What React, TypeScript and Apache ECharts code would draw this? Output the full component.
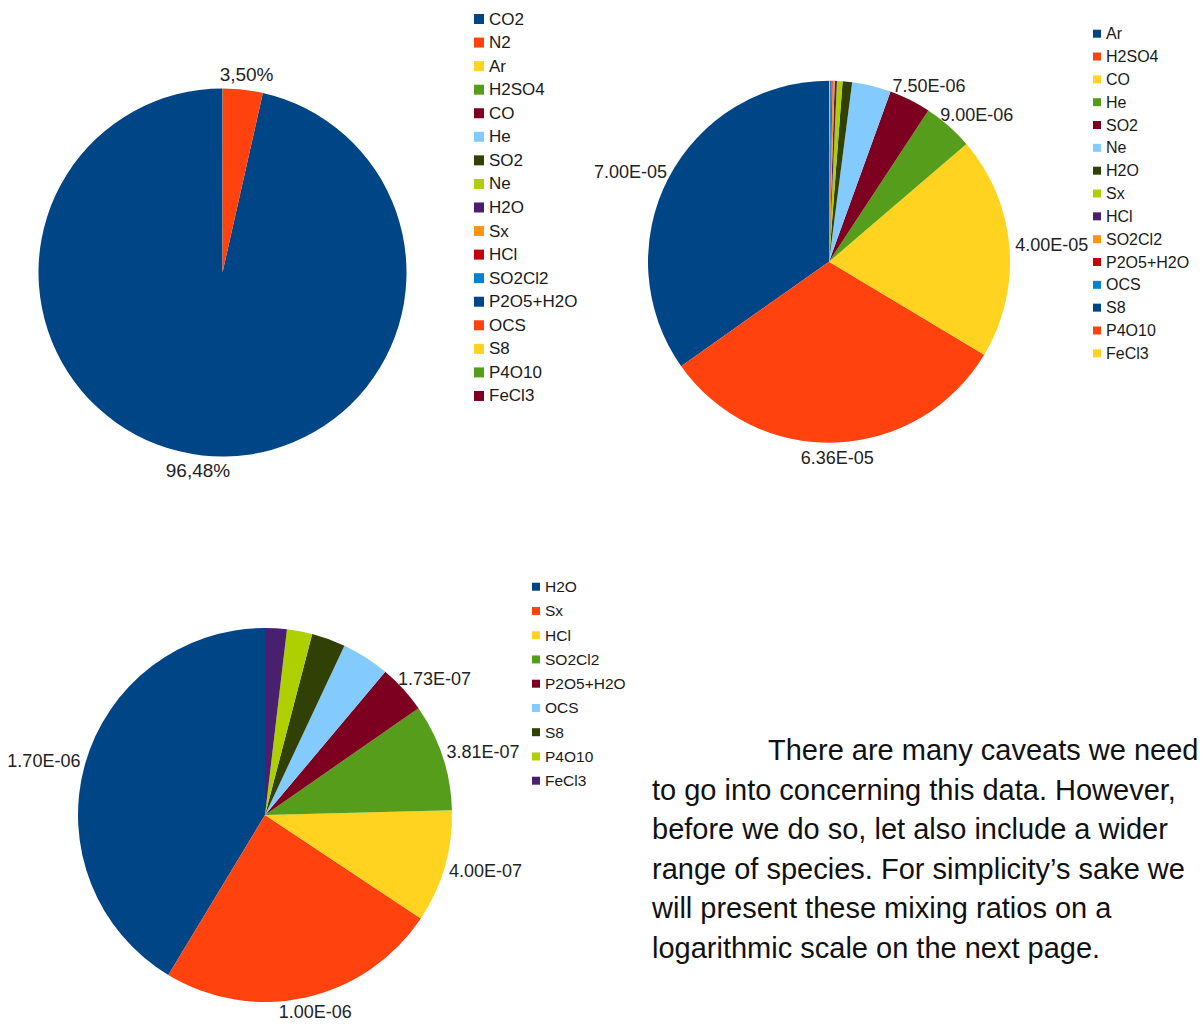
import React, { useEffect, useRef } from "react";
import * as echarts from "echarts";

// ---- Data ----
const palette = [
  "#004586", "#ff420e", "#ffd320", "#579d1c", "#7e0021", "#83caff",
  "#314004", "#aecf00", "#4b1f6f", "#ff950e", "#c5000b", "#0084d1",
];

const names1 = ["CO2", "N2", "Ar", "H2SO4", "CO", "He", "SO2", "Ne", "H2O", "Sx", "HCl", "SO2Cl2", "P2O5+H2O", "OCS", "S8", "P4O10", "FeCl3"];
const values1 = [0.9648, 0.035, 7.0e-5, 6.36e-5, 4.0e-5, 9.0e-6, 7.5e-6, 7.0e-6, 1.7e-6, 1.0e-6, 4.0e-7, 3.81e-7, 1.73e-7, 1.7e-7, 1.2e-7, 9.0e-8, 7.7e-8];

const names2 = ["Ar", "H2SO4", "CO", "He", "SO2", "Ne", "H2O", "Sx", "HCl", "SO2Cl2", "P2O5+H2O", "OCS", "S8", "P4O10", "FeCl3"];
const values2 = [7.0e-5, 6.36e-5, 4.0e-5, 9.0e-6, 7.5e-6, 7.0e-6, 1.7e-6, 1.0e-6, 4.0e-7, 3.81e-7, 1.73e-7, 1.7e-7, 1.2e-7, 9.0e-8, 7.7e-8];

const names3 = ["H2O", "Sx", "HCl", "SO2Cl2", "P2O5+H2O", "OCS", "S8", "P4O10", "FeCl3"];
const values3 = [1.7e-6, 1.0e-6, 4.0e-7, 3.81e-7, 1.73e-7, 1.7e-7, 1.2e-7, 9.0e-8, 7.7e-8];

// number of leading slices that carry a value label
const labeledCounts = [2, 5, 5];
const labelFormats = ["percent", "sci", "sci"];

const paragraphLines = [
  "There are many caveats we need",
  "to go into concerning this data. However,",
  "before we do so, let also include a wider",
  "range of species. For simplicity\u2019s sake we",
  "will present these mixing ratios on a",
  "logarithmic scale on the next page.",
];

// ---- Layout (positions / styles) ----
const FONT = '"Liberation Sans", Arial, sans-serif';
const layouts = [
  { center: [222.5, 272.5], radius: 184, labelFont: 19, lgLeft: 474, lgTop: 10, lgIcon: 10, lgFont: 17, lgGap: 5.56 },
  { center: [829, 261.7], radius: 181, labelFont: 18, lgLeft: 1093, lgTop: 24.7, lgIcon: 8, lgFont: 16, lgGap: 4.83 },
  { center: [265, 815], radius: 187, labelFont: 18, lgLeft: 532, lgTop: 577.7, lgIcon: 8, lgFont: 15.5, lgGap: 6.25 },
];
const LABEL_OFFSET = 6;
const PARA = { x0: 768, x: 652, y: 750, step: 39.5, font: 29 };

const seriesData = [
  { names: names1, values: values1 },
  { names: names2, values: values2 },
  { names: names3, values: values3 },
];

function sci(v: number): string {
  const [m, e] = v.toExponential(2).split("e");
  const n = parseInt(e, 10);
  const sign = n < 0 ? "-" : "+";
  return `${m}E${sign}${String(Math.abs(n)).padStart(2, "0")}`;
}

function keyName(k: number, name: string) {
  return `${k}:${name}`;
}

export default function App() {
  const ref = useRef<HTMLDivElement>(null);

  useEffect(() => {
    if (!ref.current) return;
    const chart = echarts.init(ref.current, undefined, { renderer: "svg" });

    const series = seriesData.map((sd, k) => {
      const lay = layouts[k];
      const total = sd.values.reduce((a, b) => a + b, 0);
      const cum: number[] = [];
      let acc = 0;
      sd.values.forEach((v) => {
        cum.push(acc);
        acc += v;
      });
      return {
        type: "pie",
        name: `pie${k}`,
        center: lay.center,
        radius: lay.radius,
        startAngle: 90,
        clockwise: false,
        avoidLabelOverlap: false,
        percentPrecision: 2,
        emphasis: { disabled: true },
        itemStyle: { borderWidth: 0 },
        labelLine: { show: false },
        label: {
          position: "outside",
          fontSize: lay.labelFont,
          fontFamily: FONT,
          color: "#222",
          formatter: (p: any) =>
            labelFormats[k] === "percent"
              ? `${Number(p.percent).toFixed(2).replace(".", ",")}%`
              : sci(p.value),
        },
        labelLayout: (p: any) => {
          const i = p.dataIndex;
          const mid = ((cum[i] + sd.values[i] / 2) / total) * Math.PI * 2;
          const ux = -Math.sin(mid);
          const uy = -Math.cos(mid);
          const R = lay.radius + LABEL_OFFSET;
          const w = p.labelRect.width;
          const h = p.labelRect.height;
          const ax = lay.center[0] + R * ux;
          const ay = lay.center[1] + R * uy;
          return {
            x: ax + (w / 2) * ux,
            y: ay + (h / 2) * uy,
            align: "center",
            verticalAlign: "middle",
          };
        },
        data: sd.names.map((n, i) => ({
          name: keyName(k, n),
          value: sd.values[i],
          itemStyle: { color: palette[i % palette.length] },
          label: { show: i < labeledCounts[k] },
        })),
      };
    });

    const legend = seriesData.map((sd, k) => {
      const lay = layouts[k];
      return {
        orient: "vertical",
        left: lay.lgLeft,
        top: lay.lgTop,
        padding: 0,
        icon: "rect",
        itemWidth: lay.lgIcon,
        itemHeight: lay.lgIcon,
        itemGap: lay.lgGap,
        selectedMode: false,
        data: sd.names.map((n) => keyName(k, n)),
        formatter: (n: string) => n.slice(n.indexOf(":") + 1),
        textStyle: { fontSize: lay.lgFont, fontFamily: FONT, color: "#1a1a1a", lineHeight: 18 },
      };
    });

    const graphic = paragraphLines.map((line, i) => ({
      type: "text",
      x: i === 0 ? PARA.x0 : PARA.x,
      y: PARA.y + i * PARA.step,
      silent: true,
      style: {
        text: line,
        font: `${PARA.font}px ${FONT}`,
        fill: "#111",
        textVerticalAlign: "middle",
      },
    }));

    chart.setOption({
      animation: false,
      backgroundColor: "#ffffff",
      textStyle: { fontFamily: FONT },
      legend,
      series,
      graphic,
    });

    return () => chart.dispose();
  }, []);

  return (
    <div
      ref={ref}
      style={{ position: "absolute", left: 0, top: 0, width: 1201, height: 1025 }}
    />
  );
}
